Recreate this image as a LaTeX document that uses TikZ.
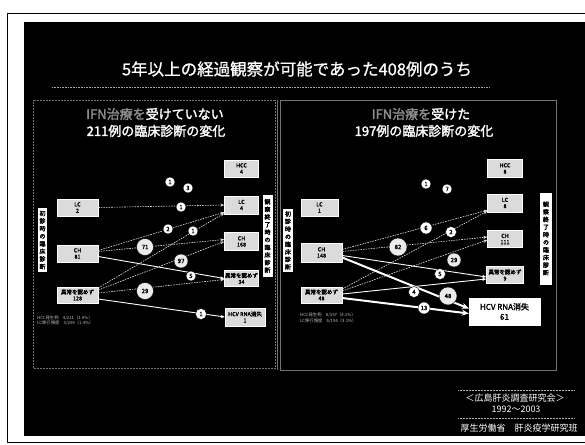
\documentclass[tikz,border=0pt]{standalone}
\usepackage{fontspec}
\newfontfamily\jp{Noto Sans CJK JP}
\newfontfamily\jpb[FakeBold=2]{Noto Sans CJK JP}
\newfontfamily\jpm[FakeBold=0.8]{Noto Sans CJK JP}
\usetikzlibrary{arrows.meta,calc}
\begin{document}
\begin{tikzpicture}[x=1pt,y=-1pt,
  nbox/.style={draw=white, line width=0.4pt, fill=black!14, text=black, font=\jpb\fontsize{5.5}{6.3}\selectfont, align=center, inner sep=0pt},
  ncirc/.style={circle, fill=white, draw=black, line width=0.4pt, text=black, font=\jpb\fontsize{6}{6}\selectfont, inner sep=0pt, minimum size=10pt},
  bcirc/.style={ncirc, minimum size=17pt, fill=black!8},
  vlab/.style={fill=white, text=black, font=\jpb\fontsize{6}{7.6}\selectfont, align=center, inner sep=0pt},
  dline/.style={draw=black!12, line width=0.6pt, dash pattern=on 1.6pt off 1pt, -{Stealth[length=4pt,width=3pt]}},
  sline/.style={draw=white, line width=0.9pt, -{Stealth[length=4pt,width=3.2pt]}},
  tline/.style={draw=white, line width=2pt, -{Stealth[length=7pt,width=6pt]}},
  note/.style={text=white!75!black, font=\jp\fontsize{4.3}{5.2}\selectfont, align=left, inner sep=0pt, anchor=west},
]
\useasboundingbox (0,0) rectangle (585,444);
\fill[white] (0,0) rectangle (585,444);
\draw[black, line width=0.6pt] (7,13) -- (585,13);
\draw[black, line width=0.6pt] (7,13) -- (7,442) -- (585,442);
\fill[black] (24,22) rectangle (585,436);

% title
\node[text=white, font=\jpm\fontsize{16.5}{16.5}\selectfont] (title) at (297,69) {5年以上の経過観察が可能であった408例のうち};
\draw[white!65!black, line width=0.6pt, densely dotted] (52,87) -- (490,87);

% panel frames
\draw[white!45!black, line width=0.5pt, densely dotted] (33,100) rectangle (275,368);
\draw[white!45!black, line width=0.5pt] (280,100) rectangle (556,370);
\draw[white!45!black, line width=0.5pt] (277.5,100) -- (277.5,370);

% subtitles
\node[text=white, font=\jpb\fontsize{13}{13}\selectfont] (s1a) at (155,114) {\textcolor{black!45}{IFN治療を}受けていない};
\node[text=white, font=\jpb\fontsize{13}{13}\selectfont] (s1b) at (156,131) {211例の臨床診断の変化};
\node[text=white, font=\jpb\fontsize{13}{13}\selectfont] (s2a) at (421,114) {\textcolor{black!45}{IFN治療を}受けた};
\node[text=white, font=\jpb\fontsize{13}{13}\selectfont] (s2b) at (424,131) {197例の臨床診断の変化};

% ---------- left panel ----------
\node[vlab, minimum width=9pt, minimum height=64pt] (labL1) at (42.5,240) {初\\診\\時\\の\\臨\\床\\診\\断};
\node[vlab, minimum width=10pt, minimum height=82pt] (labL2) at (267.5,236) {観\\察\\終\\了\\時\\の\\臨\\床\\診\\断};

\node[nbox, minimum width=41pt, minimum height=17pt] (lcL) at (77.5,207.5) {LC\\2};
\node[nbox, minimum width=41pt, minimum height=17pt] (chL) at (77.5,253.5) {CH\\81};
\node[nbox, minimum width=41pt, minimum height=16pt] (nlL) at (77.5,295) {異常を認めず\\128};

\node[nbox, minimum width=34pt, minimum height=17pt] (hccA) at (241.5,168.5) {HCC\\4};
\node[nbox, minimum width=34pt, minimum height=18pt] (lcA) at (241.5,205) {LC\\4};
\node[nbox, minimum width=34pt, minimum height=18pt] (chA) at (241.5,241.5) {CH\\168};
\node[nbox, minimum width=34pt, minimum height=16pt] (nlA) at (241.5,278.5) {異常を認めず\\34};
\node[nbox, minimum width=40pt, minimum height=18pt] (hcvA) at (245,317) {HCV RNA消失\\1};

\draw[dline] (lcL.east) -- (lcA.west);
\draw[dline] ($(chL.east)+(0,-3)$) -- ($(lcA.south west)+(0,-2)$);
\draw[dline] ($(nlL.east)+(0,-7)$) -- ($(lcA.south west)+(0,-1)$);
\draw[dline] ($(chL.east)+(0,-2)$) -- ($(chA.west)+(0,-2)$);
\draw[dline] ($(nlL.east)+(0,-5)$) -- ($(chA.west)+(0,0)$);
\draw[dline] ($(nlL.east)+(0,-2)$) -- ($(nlA.west)+(0,1)$);
\draw[sline] ($(chL.east)+(0,3)$) -- ($(nlA.west)+(0,0)$);
\draw[sline] ($(nlL.east)+(0,4)$) -- (hcvA.west);

\node[ncirc] (a1) at (170,182) {1};
\node[ncirc] (a2) at (188,188) {3};
\node[ncirc] (a3) at (181,207) {1};
\node[ncirc] (a4) at (168,229) {2};
\node[ncirc] (a5) at (193,231) {1};
\node[bcirc] (a6) at (145,247) {71};
\node[bcirc, minimum size=14pt] (a7) at (181,261) {97};
\node[ncirc] (a8) at (191,276) {5};
\node[bcirc] (a9) at (145,291) {29};
\node[ncirc, minimum size=11pt] (a10) at (201,314) {1};

\node[note] (noteA) at (37,320.5) {HCC発生例\quad 4/211（1.9\%）\\LC移行頻度\quad 3/209（1.4\%）};

% ---------- right panel ----------
\node[vlab, minimum width=10pt, minimum height=63pt] (labR1) at (288,240.5) {初\\診\\時\\の\\臨\\床\\診\\断};
\node[vlab, minimum width=12pt, minimum height=92pt] (labR2) at (546,238.5) {観\\察\\終\\了\\時\\の\\臨\\床\\診\\断};

\node[nbox, minimum width=37pt, minimum height=17pt] (lcB) at (319.5,207.5) {LC\\1};
\node[nbox, minimum width=41pt, minimum height=19pt] (chB) at (321.5,252.5) {CH\\148};
\node[nbox, minimum width=41pt, minimum height=16pt] (nlB) at (321.5,295) {異常を認めず\\48};

\node[nbox, minimum width=35pt, minimum height=18pt] (hccC) at (505,168.5) {HCC\\8};
\node[nbox, minimum width=35pt, minimum height=18pt] (lcC) at (505,203) {LC\\8};
\node[nbox, minimum width=35pt, minimum height=17pt] (chC) at (505,239) {CH\\111};
\node[nbox, minimum width=37pt, minimum height=17pt] (nlC) at (505,275) {異常を認めず\\9};
\node[nbox, fill=white, minimum width=71pt, minimum height=27pt, font=\jpb\fontsize{8}{10}\selectfont] (hcvC) at (504.5,311.5) {HCV RNA消失\\61};

\draw[dline] ($(chB.east)+(0,-3)$) -- ($(lcC.south west)+(0,-2)$);
\draw[dline] ($(nlB.east)+(0,-6)$) -- ($(lcC.south west)+(0,-1)$);
\draw[dline] ($(chB.east)+(0,-1)$) -- ($(chC.west)+(0,-2)$);
\draw[dline] ($(nlB.east)+(0,-4)$) -- ($(chC.west)+(0,1)$);
\draw[sline] ($(chB.east)+(0,3)$) -- ($(nlC.west)+(0,2)$);
\draw[sline] ($(nlB.east)+(0,-1)$) -- ($(nlC.west)+(0,4)$);
\draw[tline] ($(chB.east)+(0,5)$) -- ($(hcvC.west)+(0,-3)$);
\draw[tline] ($(nlB.east)+(0,3)$) -- ($(hcvC.west)+(0,2)$);

\node[ncirc] (b1) at (426,184) {1};
\node[ncirc] (b2) at (447,189) {7};
\node[ncirc, minimum size=12pt] (b3) at (426,228) {6};
\node[ncirc, minimum size=11pt] (b4) at (451,232) {2};
\node[bcirc, minimum size=18pt] (b5) at (398,247) {82};
\node[bcirc, minimum size=14pt] (b6) at (454,260) {29};
\node[ncirc, minimum size=11pt] (b7) at (440,274) {5};
\node[ncirc, minimum size=11pt] (b8) at (414,292) {4};
\node[bcirc, minimum size=18pt] (b9) at (448,296) {48};
\node[ncirc, minimum size=12pt] (b10) at (424,308) {13};

\node[note] (noteB) at (300,318) {HCC発生例\quad 8/197（4.1\%）\\LC移行頻度\quad 6/196（3.1\%）};

% ---------- source ----------
\draw[white!70!black, line width=0.5pt, densely dotted] (458,390) -- (575,390);
\draw[white!70!black, line width=0.5pt, densely dotted] (458,418) -- (575,418);
\node[text=white, font=\jp\fontsize{9}{9}\selectfont] (src1) at (515,398) {＜広島肝炎調査研究会＞};
\node[text=white, font=\jp\fontsize{9}{9}\selectfont] (src2) at (516,409) {1992～2003};
\node[text=white, font=\jp\fontsize{9}{9}\selectfont] (src3) at (519,428) {厚生労働省\quad 肝炎疫学研究班};
\end{tikzpicture}
\end{document}
